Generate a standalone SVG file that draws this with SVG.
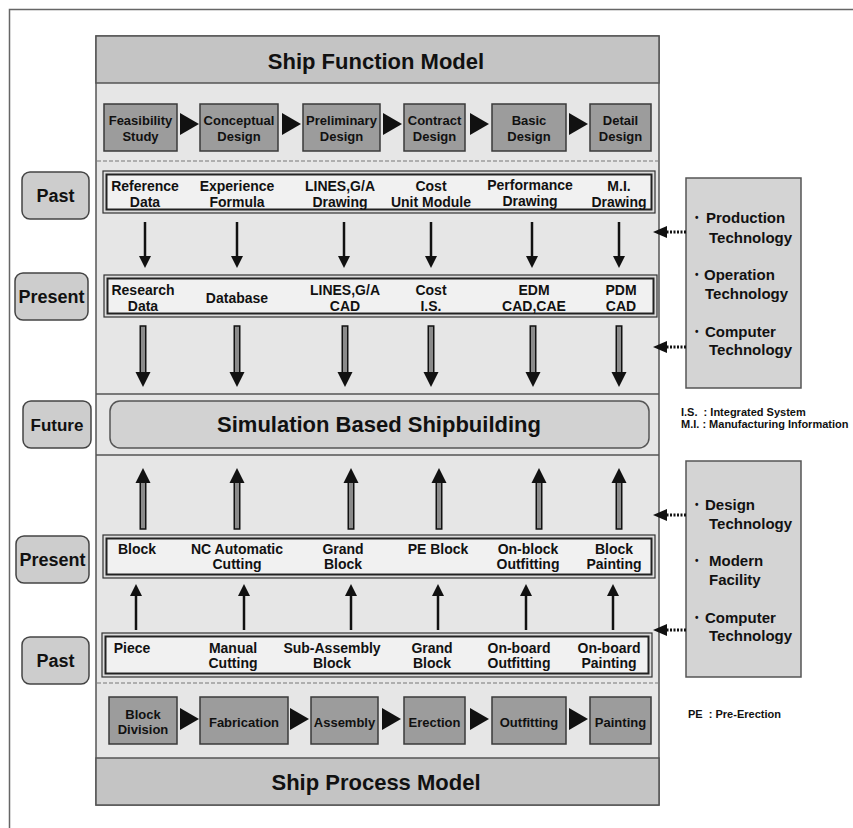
<svg xmlns="http://www.w3.org/2000/svg" width="853" height="828" viewBox="0 0 853 828">
<style>
text{font-family:"Liberation Sans",Arial,sans-serif;font-weight:bold;fill:#111;text-anchor:middle}
.title{font-size:22px}
.pb{fill:#9c9c9c;stroke:#3a3a3a;stroke-width:1.5}
.tri{fill:#111}
.pt{font-size:13px}
.rt{font-size:14px}
.lab{fill:#cdcdcd;stroke:#444;stroke-width:1.5}
.lt{font-size:18px}
.rowo{fill:#dcdcdc;stroke:#333;stroke-width:1.2}
.rowi{fill:#f1f1f1;stroke:#222;stroke-width:2}
.side{fill:#d4d4d4;stroke:#555;stroke-width:1.5}
.st{font-size:15px;text-anchor:start}
.bul{font-size:10px}
.note{font-size:11px;text-anchor:start}
.dash{stroke:#777;stroke-width:1;stroke-dasharray:4 2;fill:none}
.sep{stroke:#555;stroke-width:1.5}
.dot{stroke:#111;stroke-width:3;stroke-dasharray:2 1.5;fill:none}
</style>
<defs>
<g id="thin"><line x1="0" y1="0" x2="0" y2="36" stroke="#111" stroke-width="2.5"/><polygon points="-6,34 6,34 0,46" fill="#111"/></g>
<g id="dbl"><rect x="-2.75" y="0" width="5.5" height="48" fill="#8a8a8a" stroke="#111" stroke-width="1.5"/><polygon points="-7.5,46 7.5,46 0,61" fill="#111"/></g>
</defs>
<!-- outer frame -->
<path d="M9.5,828 V9.5 H853" fill="none" stroke="#666" stroke-width="1.5"/>

<g id="main-panel">
<rect x="96" y="36" width="563" height="769" fill="#e6e6e6" stroke="#555" stroke-width="1.5"/>
<rect x="96" y="36" width="563" height="47" fill="#c4c4c4" stroke="#555" stroke-width="1.5"/>
<rect x="96" y="758" width="563" height="47" fill="#c4c4c4" stroke="#555" stroke-width="1.5"/>
<line class="dash" x1="97" y1="161" x2="658" y2="161"/>
<line class="dash" x1="97" y1="683" x2="658" y2="683"/>
<line class="sep" x1="96" y1="394" x2="659" y2="394"/>
<line class="sep" x1="96" y1="455" x2="659" y2="455"/>
</g>

<g id="title-function"><text class="title" x="376" y="69">Ship Function Model</text></g>
<g id="title-process"><text class="title" x="376" y="790">Ship Process Model</text></g>

<!-- top process -->
<g id="fp1"><rect class="pb" x="104" y="104" width="73" height="47"/><text class="pt" x="140.5" y="124.7">Feasibility</text><text class="pt" x="140.5" y="140.7">Study</text></g>
<g id="fp2"><rect class="pb" x="200" y="104" width="78" height="47"/><text class="pt" x="239" y="124.7">Conceptual</text><text class="pt" x="239" y="140.7">Design</text></g>
<g id="fp3"><rect class="pb" x="303" y="104" width="77" height="47"/><text class="pt" x="341.5" y="124.7">Preliminary</text><text class="pt" x="341.5" y="140.7">Design</text></g>
<g id="fp4"><rect class="pb" x="404" y="104" width="61" height="47"/><text class="pt" x="434.5" y="124.7">Contract</text><text class="pt" x="434.5" y="140.7">Design</text></g>
<g id="fp5"><rect class="pb" x="492" y="104" width="74" height="47"/><text class="pt" x="529" y="124.7">Basic</text><text class="pt" x="529" y="140.7">Design</text></g>
<g id="fp6"><rect class="pb" x="590" y="104" width="61" height="47"/><text class="pt" x="620.5" y="124.7">Detail</text><text class="pt" x="620.5" y="140.7">Design</text></g>

<!-- bottom process -->
<g id="bp1"><rect class="pb" x="109" y="697" width="68" height="47"/><text class="pt" x="143" y="719">Block</text><text class="pt" x="143" y="734">Division</text></g>
<g id="bp2"><rect class="pb" x="200" y="697" width="88" height="47"/><text class="pt" x="244" y="727">Fabrication</text></g>
<g id="bp3"><rect class="pb" x="311" y="697" width="67" height="47"/><text class="pt" x="344.5" y="727">Assembly</text></g>
<g id="bp4"><rect class="pb" x="404" y="697" width="61" height="47"/><text class="pt" x="434.5" y="727">Erection</text></g>
<g id="bp5"><rect class="pb" x="492" y="697" width="74" height="47"/><text class="pt" x="529" y="727">Outfitting</text></g>
<g id="bp6"><rect class="pb" x="590" y="697" width="61" height="47"/><text class="pt" x="620.5" y="727">Painting</text></g>

<!-- left labels -->
<g id="lab-past1"><rect class="lab" x="22" y="172" width="67" height="47" rx="8"/><text class="lt" x="55.5" y="202">Past</text></g>
<g id="lab-present1"><rect class="lab" x="15" y="273" width="73" height="47" rx="8"/><text class="lt" x="51.5" y="303">Present</text></g>
<g id="lab-future"><rect class="lab" x="23" y="401" width="68" height="47" rx="8"/><text class="lt" x="57" y="431" style="font-size:17px">Future</text></g>
<g id="lab-present2"><rect class="lab" x="16" y="536" width="73" height="47" rx="8"/><text class="lt" x="52.5" y="566">Present</text></g>
<g id="lab-past2"><rect class="lab" x="22" y="637" width="67" height="47" rx="8"/><text class="lt" x="55.5" y="667">Past</text></g>

<!-- row: function past -->
<g id="row-fpast">
<rect class="rowo" x="103" y="171" width="552" height="42"/><rect class="rowi" x="106.5" y="174.5" width="545" height="35"/>
<text class="rt" x="145" y="191">Reference</text><text class="rt" x="145" y="207">Data</text>
<text class="rt" x="237" y="191">Experience</text><text class="rt" x="237" y="207">Formula</text>
<text class="rt" x="340" y="191">LINES,G/A</text><text class="rt" x="340" y="207">Drawing</text>
<text class="rt" x="431" y="191">Cost</text><text class="rt" x="431" y="207">Unit Module</text>
<text class="rt" x="530" y="190">Performance</text><text class="rt" x="530" y="206">Drawing</text>
<text class="rt" x="619" y="191">M.I.</text><text class="rt" x="619" y="207">Drawing</text>
</g>
<!-- row: function present -->
<g id="row-fpresent">
<rect class="rowo" x="104" y="275" width="553" height="42"/><rect class="rowi" x="107.5" y="278.5" width="546" height="35"/>
<text class="rt" x="143" y="295">Research</text><text class="rt" x="143" y="311">Data</text>
<text class="rt" x="237" y="303">Database</text>
<text class="rt" x="345" y="295">LINES,G/A</text><text class="rt" x="345" y="311">CAD</text>
<text class="rt" x="431" y="295">Cost</text><text class="rt" x="431" y="311">I.S.</text>
<text class="rt" x="534" y="295">EDM</text><text class="rt" x="534" y="311">CAD,CAE</text>
<text class="rt" x="621" y="295">PDM</text><text class="rt" x="621" y="311">CAD</text>
</g>

<g id="sbs"><rect x="110" y="401" width="539" height="47" rx="10" fill="#d2d2d2" stroke="#555" stroke-width="1.5"/><text x="379" y="432" style="font-size:22px">Simulation Based Shipbuilding</text></g>

<!-- row: process present -->
<g id="row-ppresent">
<rect class="rowo" x="103" y="535" width="552" height="43"/><rect class="rowi" x="106.5" y="538.5" width="545" height="36"/>
<text class="rt" x="137" y="554">Block</text>
<text class="rt" x="237" y="554">NC Automatic</text><text class="rt" x="237" y="569">Cutting</text>
<text class="rt" x="343" y="554">Grand</text><text class="rt" x="343" y="569">Block</text>
<text class="rt" x="438" y="554">PE Block</text>
<text class="rt" x="528" y="554">On-block</text><text class="rt" x="528" y="569">Outfitting</text>
<text class="rt" x="614" y="554">Block</text><text class="rt" x="614" y="569">Painting</text>
</g>
<!-- row: process past -->
<g id="row-ppast">
<rect class="rowo" x="102" y="633" width="550" height="44"/><rect class="rowi" x="105.5" y="636.5" width="543" height="37"/>
<text class="rt" x="132" y="653">Piece</text>
<text class="rt" x="233" y="653">Manual</text><text class="rt" x="233" y="668">Cutting</text>
<text class="rt" x="332" y="653">Sub-Assembly</text><text class="rt" x="332" y="668">Block</text>
<text class="rt" x="432" y="653">Grand</text><text class="rt" x="432" y="668">Block</text>
<text class="rt" x="519" y="653">On-board</text><text class="rt" x="519" y="668">Outfitting</text>
<text class="rt" x="609" y="653">On-board</text><text class="rt" x="609" y="668">Painting</text>
</g>

<!-- side panels -->
<g id="side-top">
<rect class="side" x="686" y="178" width="115" height="210"/>
<text class="st" y="222.5"><tspan class="bul" x="695" dy="-2">•</tspan><tspan x="706" dy="2">Production</tspan></text><text class="st" x="709" y="242.5">Technology</text>
<text class="st" y="279.5"><tspan class="bul" x="695" dy="-2">•</tspan><tspan x="704" dy="2">Operation</tspan></text><text class="st" x="705" y="298.5">Technology</text>
<text class="st" y="336.5"><tspan class="bul" x="695" dy="-2">•</tspan><tspan x="705" dy="2">Computer</tspan></text><text class="st" x="709" y="354.5">Technology</text>
</g>
<g id="side-bottom">
<rect class="side" x="686" y="461" width="115" height="216"/>
<text class="st" y="509.5"><tspan class="bul" x="695" dy="-2">•</tspan><tspan x="705" dy="2">Design</tspan></text><text class="st" x="709" y="528.5">Technology</text>
<text class="st" y="565.5"><tspan class="bul" x="695" dy="-2">•</tspan><tspan x="709" dy="2">Modern</tspan></text><text class="st" x="709" y="584.5">Facility</text>
<text class="st" y="622.5"><tspan class="bul" x="695" dy="-2">•</tspan><tspan x="705" dy="2">Computer</tspan></text><text class="st" x="709" y="640.5">Technology</text>
</g>

<g id="notes">
<text class="note" x="681" y="416" xml:space="preserve">I.S.  : Integrated System</text>
<text class="note" x="681" y="428">M.I. : Manufacturing Information</text>
<text class="note" x="688" y="718" xml:space="preserve">PE  : Pre-Erection</text>
</g>

<g id="connectors">
<!-- process triangles -->
<polygon class="tri" points="180,113 199,124 180,135"/>
<polygon class="tri" points="282,113 301,124 282,135"/>
<polygon class="tri" points="383,113 402,124 383,135"/>
<polygon class="tri" points="470,113 489,124 470,135"/>
<polygon class="tri" points="569,113 588,124 569,135"/>
<polygon class="tri" points="180,708 199,719 180,730"/>
<polygon class="tri" points="290,708 309,719 290,730"/>
<polygon class="tri" points="382,708 401,719 382,730"/>
<polygon class="tri" points="470,708 489,719 470,730"/>
<polygon class="tri" points="569,708 588,719 569,730"/>
<!-- past -> present (function) -->
<use href="#thin" x="145" y="222"/>
<use href="#thin" x="237" y="222"/>
<use href="#thin" x="344" y="222"/>
<use href="#thin" x="431" y="222"/>
<use href="#thin" x="532" y="222"/>
<use href="#thin" x="619" y="222"/>
<!-- present -> future -->
<use href="#dbl" x="143" y="326"/>
<use href="#dbl" x="237" y="326"/>
<use href="#dbl" x="345" y="326"/>
<use href="#dbl" x="431" y="326"/>
<use href="#dbl" x="533" y="326"/>
<use href="#dbl" x="619" y="326"/>
<!-- present -> future (process, upward) -->
<g transform="translate(0,997) scale(1,-1)">
<use href="#dbl" x="143" y="468"/>
<use href="#dbl" x="237" y="468"/>
<use href="#dbl" x="351" y="468"/>
<use href="#dbl" x="439" y="468"/>
<use href="#dbl" x="539" y="468"/>
<use href="#dbl" x="619" y="468"/>
</g>
<!-- past -> present (process, upward) -->
<g transform="translate(0,1213) scale(1,-1)">
<use href="#thin" x="136" y="583"/>
<use href="#thin" x="244" y="583"/>
<use href="#thin" x="351" y="583"/>
<use href="#thin" x="438" y="583"/>
<use href="#thin" x="526" y="583"/>
<use href="#thin" x="613" y="583"/>
</g>
<!-- dotted influence arrows -->
<line class="dot" x1="686" y1="232" x2="666" y2="232"/><polygon points="653,232 667,226 667,238" fill="#111"/>
<line class="dot" x1="686" y1="347" x2="666" y2="347"/><polygon points="653,347 667,341 667,353" fill="#111"/>
<line class="dot" x1="686" y1="515" x2="666" y2="515"/><polygon points="653,515 667,509 667,521" fill="#111"/>
<line class="dot" x1="686" y1="630" x2="666" y2="630"/><polygon points="653,630 667,624 667,636" fill="#111"/>
</g>
</svg>
